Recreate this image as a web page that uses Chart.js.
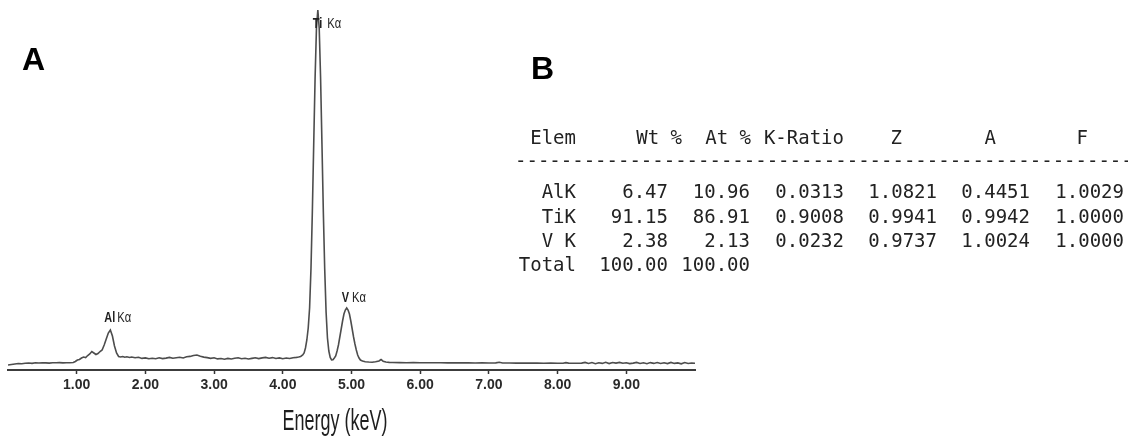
<!DOCTYPE html>
<html>
<head>
<meta charset="utf-8">
<script src="https://cdn.jsdelivr.net/npm/chart.js@4.4.1/dist/chart.umd.min.js"></script>
<style>
  html, body { margin: 0; padding: 0; background: #ffffff; width: 1128px; height: 437px; overflow: hidden; }
  #wrap { position: relative; width: 1128px; height: 437px; }
  #chart { position: absolute; left: 0; top: 0; }
  .panel { position: absolute; font-family: "Liberation Sans", Arial, sans-serif; font-weight: bold; font-size: 32px; line-height: 32px; color: #000; }
  .cell { position: absolute; font-family: "DejaVu Sans Mono", monospace; font-size: 19px; line-height: 24px; color: #222; white-space: pre; text-align: right; width: 140px; }
  .dash { position: absolute; font-family: "DejaVu Sans Mono", monospace; font-size: 19px; line-height: 24px; color: #222; white-space: pre; }
</style>
</head>
<body>
<div id="wrap">
  <canvas id="chart" width="700" height="437"></canvas>
  <div class="panel" style="left:22px; top:43px;">A</div>
  <div class="panel" style="left:531px; top:52px;">B</div>
  <div id="table"></div>
</div>
<script>
// ---------------- Spectrum data (energy in keV, intensity) ----------------
const energyKeV = [
  0.00,0.05,0.10,0.15,0.20,0.25,0.30,0.35,0.40,0.45,0.50,0.55,0.60,0.65,0.70,0.75,0.80,0.85,0.90,0.95,
  0.98,1.01,1.04,1.07,1.10,1.13,1.16,1.19,1.22,1.25,1.28,1.31,1.34,1.37,1.40,1.43,1.46,1.49,1.52,1.55,1.58,1.61,1.64,1.67,1.70,1.73,
  1.77,1.80,1.85,1.90,1.95,2.00,2.05,2.10,2.15,2.20,2.25,2.30,2.35,2.40,2.45,2.50,2.55,2.60,2.65,2.70,2.75,2.80,2.85,2.90,2.95,
  3.00,3.05,3.10,3.15,3.20,3.25,3.30,3.35,3.40,3.45,3.50,3.55,3.60,3.65,3.70,3.75,3.80,3.85,3.90,3.95,4.00,4.05,4.10,4.15,4.20,4.23,
  4.26,4.29,4.31,4.33,4.35,4.37,4.39,4.41,4.43,4.45,4.47,4.49,4.51,4.53,4.55,4.57,4.59,4.61,4.63,4.65,4.67,4.69,4.71,4.73,
  4.75,4.77,4.79,4.81,4.83,4.85,4.87,4.89,4.91,4.93,4.95,4.97,4.99,5.01,5.03,5.05,5.07,5.09,5.11,5.13,5.16,5.20,5.25,5.30,5.35,5.40,5.43,5.46,5.50,5.55,
  5.60,5.70,5.80,5.90,6.00,6.10,6.20,6.30,6.40,6.50,6.60,6.70,6.80,6.90,7.00,7.10,7.15,7.20,7.30,7.40,7.50,7.60,7.70,7.80,7.90,8.00,8.08,8.12,8.16,8.25,8.35,
  8.40,8.45,8.50,8.55,8.60,8.65,8.70,8.75,8.80,8.85,8.90,8.95,9.00,9.05,9.10,9.15,9.20,9.25,9.30,9.35,9.40,9.45,9.50,9.55,9.60,9.65,9.70,9.75,9.80,9.85,9.90,9.95,10.00
];
const counts = [
  5,5.5,6,6.5,6.3,6.8,7,6.6,7.2,7,7.3,7.1,6.9,7.3,7.2,7.4,7.1,7.3,7.2,7.5,
  8.5,10,10.5,12,13,12.5,14.5,16,18.5,17,15.5,16.5,18.5,20,25,31,37,40,34,24,17,13.5,13,13.5,12.8,13.2,
  12.5,13,12.2,12.8,11.6,12.1,11.2,11.8,11.3,12.2,11.4,11.9,12.6,11.7,12.3,12.8,12,13.2,13.6,14.5,15,13.8,12.9,12.4,11.6,
  12.2,11.1,11.5,10.8,11.6,11,11.7,12.3,11.3,11.8,11,11.6,12.2,11.4,12.1,12.6,11.8,12.4,11.5,12.1,11.3,12,11.5,12.3,12.6,13,
  13.5,15,17,22,30,42,62,101,158,226,292,342,360,342,292,226,158,101,58,32,19,12.5,10,10.2,
  12,14,19,25,33,41,49,56,60,62,60,56,49,41,33,26,20,15,12,10,9,8.3,8,7.8,8.2,9,10.5,8.8,8,7.6,
  7.5,7.4,7.3,7.4,7.2,7.3,7.2,7.3,7.1,7.2,7.1,7.2,7.0,7.1,7.0,7.1,7.8,7.0,7.0,6.9,7.0,6.9,6.9,6.8,6.9,6.8,6.8,7.4,6.9,6.8,6.9,
  7.6,6.5,7.4,6.3,7.2,6.6,7.7,6.4,7.5,6.9,7.6,6.7,7.3,6.4,6.9,7.6,6.5,7.2,6.3,7.4,6.6,7.5,6.5,7.3,6.4,7.6,6.6,7.1,6.2,7.4,6.5,7.0,6.8
];
const xTickValues = [1, 2, 3, 4, 5, 6, 7, 8, 9];
const xAxisTitle = 'Energy (keV)';

// Peak annotations
const peakElements = ['Al', 'Ti', 'V'];
const peakLines = ['Kα', 'Kα', 'Kα'];
const peakEnergies = [1.49, 4.51, 4.93];
const peakHeights = [40, 360, 62];

// ---------------- Quantification table (panel B) ----------------
const tableHeader = ['Elem', 'Wt %', 'At %', 'K-Ratio', 'Z', 'A', 'F'];
const elementNames = ['AlK', 'TiK', 'V K'];
const wtPercent = ['6.47', '91.15', '2.38'];
const atPercent = ['10.96', '86.91', '2.13'];
const kRatio = ['0.0313', '0.9008', '0.0232'];
const zFactor = ['1.0821', '0.9941', '0.9737'];
const aFactor = ['0.4451', '0.9942', '1.0024'];
const fFactor = ['1.0029', '1.0000', '1.0000'];
const totalRow = ['Total', '100.00', '100.00'];

// ---------------- Build table ----------------
(function buildTable() {
  const host = document.getElementById('table');
  const headRight = [576, 682, 751, 844, 902, 996, 1088];
  const dataRight = [576, 668, 750, 844, 937, 1030, 1124];
  const rowTop = { header: 125, dash: 148, rows: [179, 203.5, 228], total: 252 };
  function cell(text, right, top) {
    const d = document.createElement('div');
    d.className = 'cell';
    d.textContent = text;
    d.style.left = (right - 140) + 'px';
    d.style.top = top + 'px';
    host.appendChild(d);
  }
  tableHeader.forEach((t, i) => cell(t, headRight[i], rowTop.header));
  const dash = document.createElement('div');
  dash.className = 'dash';
  dash.textContent = '-'.repeat(56);
  dash.style.left = '515px';
  dash.style.top = rowTop.dash + 'px';
  host.appendChild(dash);
  const cols = [elementNames, wtPercent, atPercent, kRatio, zFactor, aFactor, fFactor];
  elementNames.forEach((_, r) => {
    cols.forEach((col, c) => cell(col[r], dataRight[c], rowTop.rows[r]));
  });
  totalRow.forEach((t, i) => cell(t, dataRight[i], rowTop.total));
})();

// ---------------- Chart ----------------
const n = Math.min(energyKeV.length, counts.length);
const points = [];
for (let i = 0; i < n; i++) points.push({ x: energyKeV[i], y: counts[i] });

// condensed-look text: draw real text with a horizontal squeeze
function squeezedText(ctx, text, x, y, font, sx, align) {
  ctx.save();
  ctx.font = font;
  ctx.textAlign = align || 'left';
  ctx.textBaseline = 'alphabetic';
  ctx.translate(x, y);
  ctx.scale(sx, 1);
  ctx.fillText(text, 0, 0);
  const w = ctx.measureText(text).width * sx;
  ctx.restore();
  return w;
}

const peakLabelPlugin = {
  id: 'peakLabels',
  afterDatasetsDraw(chart) {
    const { ctx, scales } = chart;
    const offsets = [
      { dx: -6, dy: -8, gap: 2 },   // Al
      { dx: -5, dy: 18, gap: 5 },   // Ti
      { dx: -5, dy: -6, gap: 3 }    // V
    ];
    ctx.save();
    ctx.fillStyle = '#1e1e1e';
    peakElements.forEach((el, i) => {
      const x = scales.x.getPixelForValue(peakEnergies[i]) + offsets[i].dx;
      const y = scales.y.getPixelForValue(peakHeights[i]) + offsets[i].dy;
      const w = squeezedText(ctx, el, x, y, 'bold 14px "Liberation Sans", sans-serif', 0.78);
      squeezedText(ctx, peakLines[i], x + w + offsets[i].gap, y, '14px "Liberation Sans", sans-serif', 0.8);
    });
    ctx.restore();
  }
};

const axisTitlePlugin = {
  id: 'axisTitle',
  afterDraw(chart) {
    const { ctx, chartArea } = chart;
    ctx.save();
    ctx.fillStyle = '#1e1e1e';
    squeezedText(ctx, xAxisTitle, chartArea.left + 327, 430, '30px "Liberation Sans", sans-serif', 0.6, 'center');
    ctx.restore();
  }
};

new Chart(document.getElementById('chart'), {
  type: 'line',
  data: {
    datasets: [{
      data: points,
      borderColor: '#4d4d4d',
      borderWidth: 1.6,
      pointRadius: 0,
      tension: 0,
      fill: false
    }]
  },
  options: {
    responsive: false,
    animation: false,
    devicePixelRatio: 1,
    layout: { padding: { left: 8, right: 5, top: 5, bottom: 0 } },
    plugins: { legend: { display: false }, tooltip: { enabled: false } },
    scales: {
      x: {
        type: 'linear',
        min: 0,
        max: 10,
        afterBuildTicks: (s) => { s.ticks = xTickValues.map(v => ({ value: v })); },
        afterFit: (s) => { s.height = 67; },
        border: { display: true, color: '#3c3c3c', width: 2 },
        grid: { drawOnChartArea: false, drawTicks: true, tickLength: 4, tickColor: '#333', tickWidth: 1.5 },
        ticks: {
          padding: 3,
          color: '#2a2a2a',
          font: { family: '"Liberation Sans", sans-serif', size: 14, weight: 'bold' },
          callback: (v) => Number(v).toFixed(2),
          maxRotation: 0
        },
        title: { display: false, text: xAxisTitle }
      },
      y: {
        display: false,
        min: 0,
        max: 365
      }
    }
  },
  plugins: [peakLabelPlugin, axisTitlePlugin]
});
</script>
</body>
</html>
